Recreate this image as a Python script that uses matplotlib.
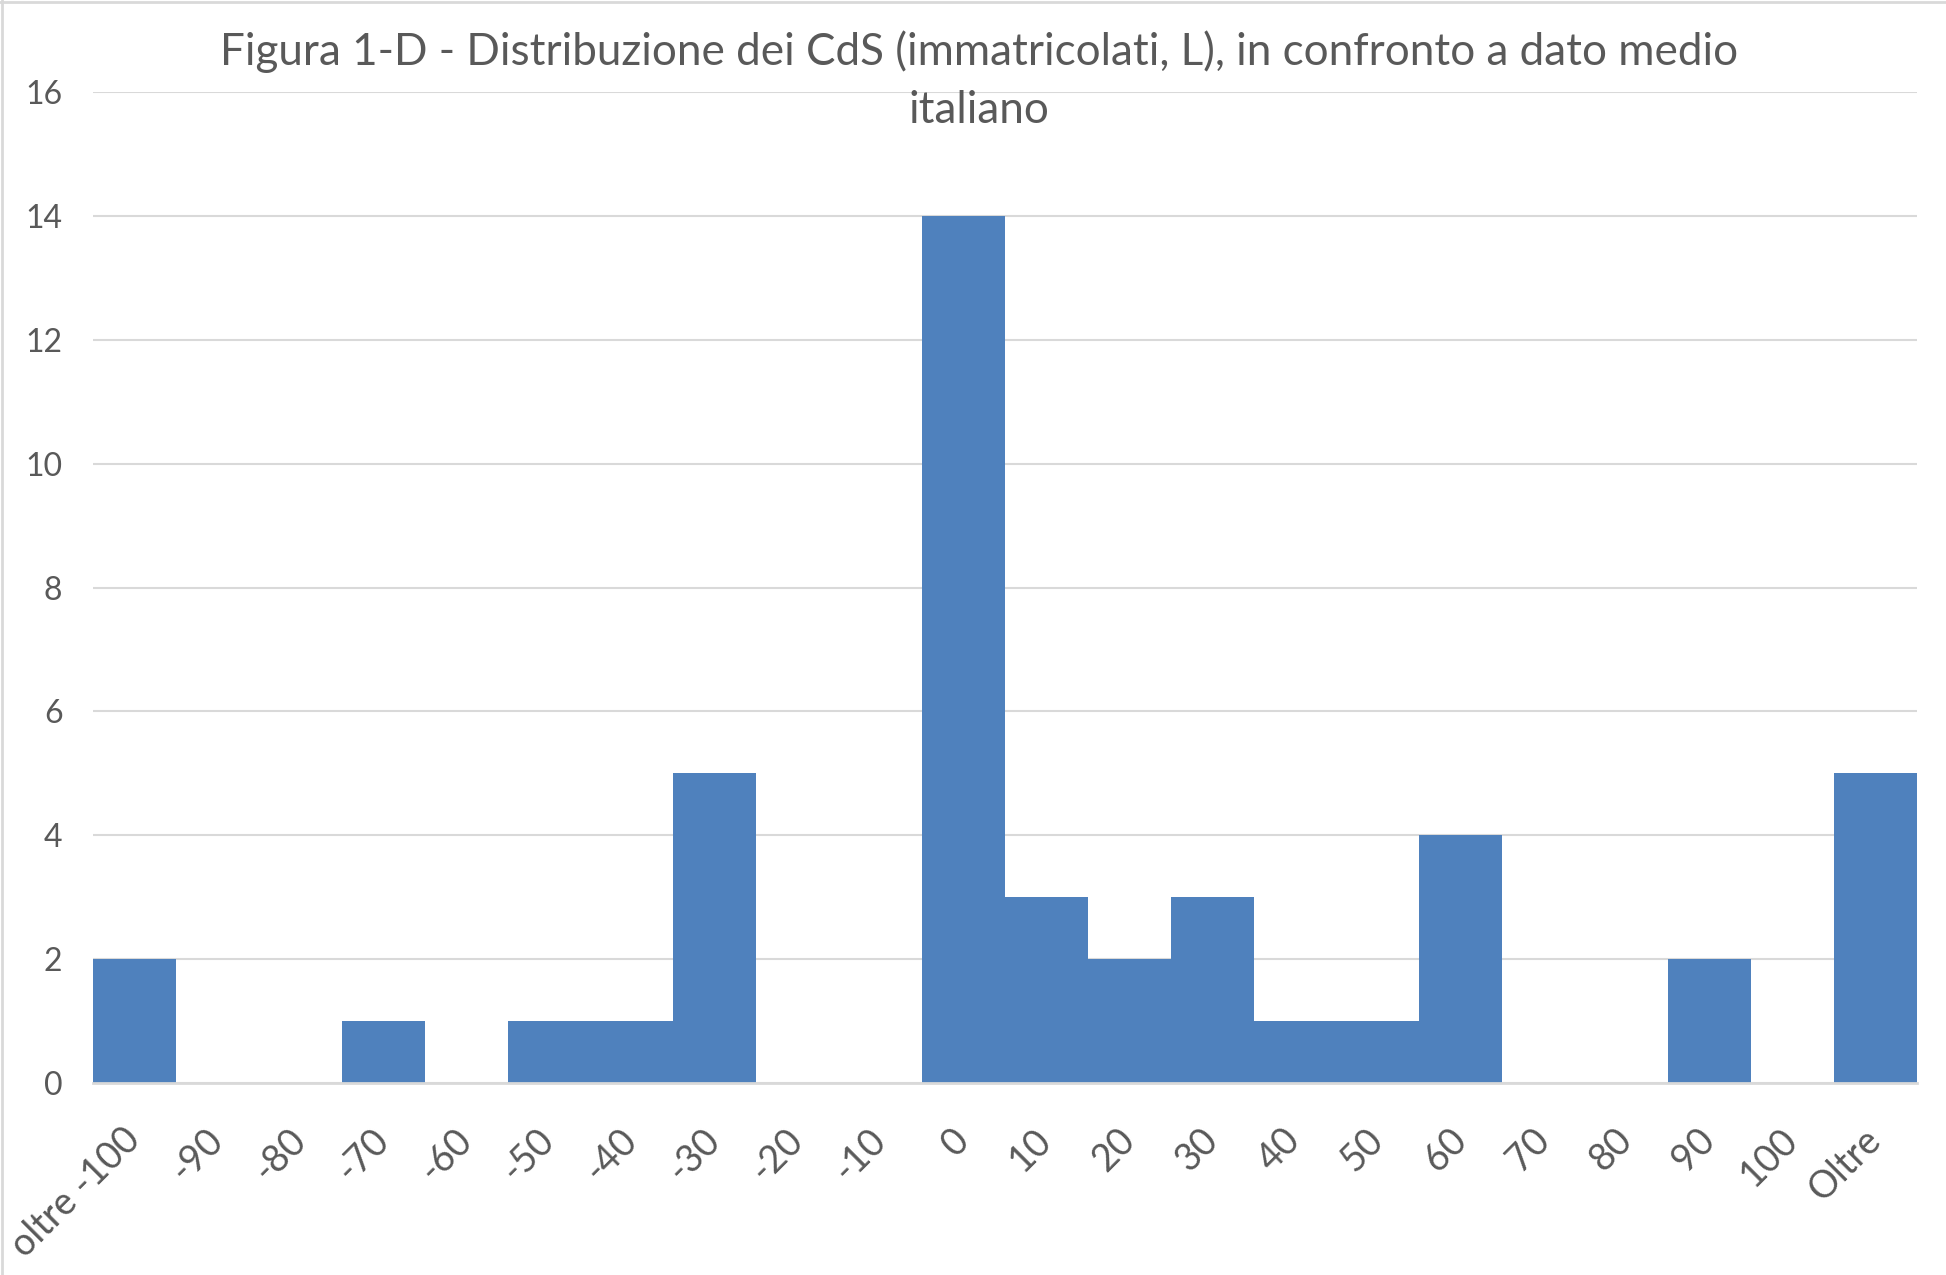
import numpy as np
import matplotlib
matplotlib.use("Agg")
import matplotlib.pyplot as plt
from matplotlib.lines import Line2D

# Classi di scostamento dal dato medio italiano
categorie = ["oltre -100", "-90", "-80", "-70", "-60", "-50", "-40", "-30", "-20", "-10",
             "0", "10", "20", "30", "40", "50", "60", "70", "80", "90", "100", "Oltre"]
num_cds = [2, 0, 0, 1, 0, 1, 1, 5, 0, 0, 14, 3, 2, 3, 1, 1, 4, 0, 0, 2, 0, 5]
y_ticks = [0, 2, 4, 6, 8, 10, 12, 14, 16]

titolo = "Figura 1-D - Distribuzione dei CdS (immatricolati, L), in confronto a dato medio\nitaliano"

plt.rcParams['font.family'] = ['Lato', 'DejaVu Sans']
testo = "#595959"
barre = "#4F81BD"
griglia = "#D9D9D9"

fig = plt.figure(figsize=(19.46, 12.75), dpi=100)
ax = fig.add_axes([0.0478, 0.1506, 0.985 - 0.0478, 0.9278 - 0.1506])

x = np.arange(len(categorie))
ax.bar(x, num_cds, width=1.0, color=barre, zorder=3)

ax.set_xlim(-0.5, len(categorie) - 0.5)
ax.set_ylim(0, 16)
ax.set_yticks(y_ticks)
ax.yaxis.grid(True, color=griglia, linewidth=1.5, zorder=0)

for s in ["top", "right", "left"]:
    ax.spines[s].set_visible(False)
ax.spines["bottom"].set_color(griglia)
ax.spines["bottom"].set_linewidth(2)
ax.spines["bottom"].set_zorder(4)

ax.tick_params(axis="y", length=0, pad=22, labelsize=23, labelcolor=testo)
ax.tick_params(axis="x", length=0, pad=37, labelsize=27, labelcolor=testo)
ax.set_xticks(x)
ax.set_xticklabels(categorie, rotation=45, ha="right", va="center", rotation_mode="anchor")

fig.text(0.503, 0.976, titolo, ha="center", va="top", fontsize=31.7, color=testo,
         linespacing=1.52)

# bordo del grafico (visibile in alto e a sinistra)
fig.add_artist(Line2D([0, 1], [0.9985, 0.9985], color=griglia, linewidth=2, transform=fig.transFigure))
fig.add_artist(Line2D([0.0008, 0.0008], [0, 1], color=griglia, linewidth=2, transform=fig.transFigure))

fig.savefig("out.png", dpi=100)
